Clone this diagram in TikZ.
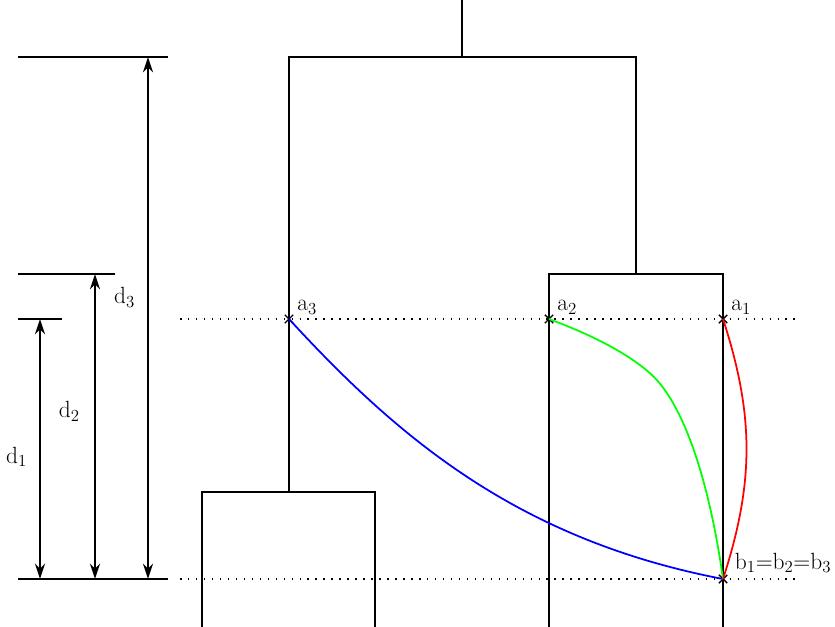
\documentclass[tikz,border=0pt]{standalone}
\usetikzlibrary{arrows.meta, positioning, shapes.misc}
\tikzset{
  frame/.style={line width=1.6pt, black},
  level/.style={line width=1.3pt, dash pattern=on 1.3pt off 5.5pt},
  dimen/.style={{Stealth[length=13pt,width=8.5pt]}-{Stealth[length=13pt,width=8.5pt]}, line width=1.6pt},
  ptmark/.style={cross out, draw, line width=1.2pt, minimum size=6pt, inner sep=0pt},
  lbl/.style={inner sep=1pt},
  pathone/.style={line width=1.5pt, red},
  pathtwo/.style={line width=1.5pt, green},
  paththree/.style={line width=1.5pt, blue},
  every node/.style={font=\fontsize{20}{24}\selectfont}
}
\begin{document}
\begin{tikzpicture}[x=0.03cm, y=-0.03cm]
    \useasboundingbox (0,0) rectangle (835,627);

    % tree frame
    \draw[frame] (462,0) -- (462,57);
    \draw[frame] (289,492) -- (289,57) -- (636,57) -- (636,274);
    \draw[frame] (549,627) -- (549,274) -- (723,274) -- (723,627);
    \draw[frame] (202,627) -- (202,492) -- (375,492) -- (375,627);

    % levels
    \draw[level] (180,319) -- (800,319);
    \draw[level] (180,579) -- (800,579);

    % points
    \node[ptmark] (pa3) at (289,319) {};
    \node[ptmark] (pa2) at (549,319) {};
    \node[ptmark] (pa1) at (723,319) {};
    \node[ptmark] (pb) at (723,579) {};
    \node[lbl, above right=3pt and 6pt of pa3.center, anchor=south west] (la3) {a$_3$};
    \node[lbl, above right=3pt and 6pt of pa2.center, anchor=south west] (la2) {a$_2$};
    \node[lbl, above right=3pt and 6pt of pa1.center, anchor=south west] (la1) {a$_1$};
    \node[lbl, above right=4pt and 9pt of pb.center, anchor=south west] (lb) {b$_1$=b$_2$=b$_3$};

    % paths
    \draw[paththree] (pa3.center) .. controls (400,440) and (520,540) .. (pb.center);
    \draw[pathtwo] (pa2.center) .. controls (600,338) and (635,358) .. (655,378)
        .. controls (690,415) and (712,500) .. (pb.center);
    \draw[pathone] (pa1.center) to[bend left=18] (pb.center);

    % dimensions
    \coordinate (t3) at (148,57);
    \coordinate (t2) at (95,274);
    \coordinate (t1) at (40,319);
    \coordinate (s3) at (148,579);
    \coordinate (s2) at (95,579);
    \coordinate (s1) at (40,579);
    \draw[frame] (18,57) -- (168,57);
    \draw[frame] (18,274) -- (115,274);
    \draw[frame] (18,319) -- (62,319);
    \draw[frame] (18,579) -- (168,579);
    \draw[dimen] (s3) -- node[pos=0.54, left=7pt] (ld3) {d$_3$} (t3);
    \draw[dimen] (s2) -- node[pos=0.55, left=9pt] (ld2) {d$_2$} (t2);
    \draw[dimen] (s1) -- node[pos=0.47, left=7pt] (ld1) {d$_1$} (t1);
\end{tikzpicture}
\end{document}
